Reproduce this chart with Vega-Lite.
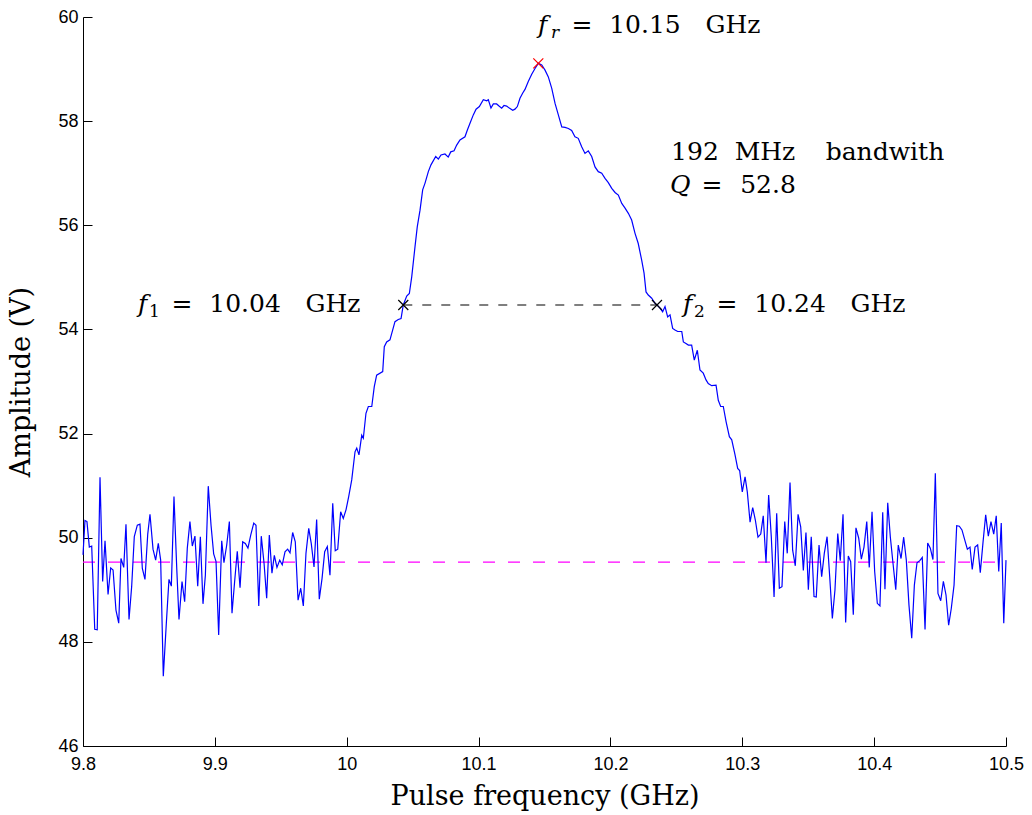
{
  "$schema": "https://vega.github.io/schema/vega-lite/v6.json",
  "width": 923,
  "height": 729,
  "autosize": {"type": "none"},
  "padding": {"left": 83, "top": 17, "right": 26, "bottom": 69},
  "background": "white",
  "config": {
    "view": {"stroke": null},
    "axis": {
      "grid": false,
      "domainColor": "black",
      "domainWidth": 1,
      "tickColor": "black",
      "tickSize": -9,
      "labelFont": "Liberation Sans",
      "labelFontSize": 18,
      "labelColor": "black",
      "labelFlush": false,
      "titleFont": "DejaVu Serif",
      "titleFontSize": 27,
      "titleFontWeight": "normal",
      "titleColor": "black"
    }
  },
  "datasets": {
    "amp": [
      {"f":9.8000,"a":49.67},{"f":9.8015,"a":50.33},{"f":9.8030,"a":50.31},{"f":9.8048,"a":49.82},{"f":9.8066,"a":49.84},{"f":9.8089,"a":48.24},{"f":9.8108,"a":48.23},{"f":9.8129,"a":51.16},{"f":9.8149,"a":49.16},{"f":9.8167,"a":49.94},
      {"f":9.8190,"a":48.91},{"f":9.8210,"a":49.42},{"f":9.8228,"a":49.38},{"f":9.8250,"a":48.61},{"f":9.8271,"a":48.36},{"f":9.8288,"a":49.60},{"f":9.8309,"a":49.43},{"f":9.8326,"a":50.26},{"f":9.8349,"a":48.43},{"f":9.8369,"a":49.06},
      {"f":9.8389,"a":50.02},{"f":9.8412,"a":50.24},{"f":9.8432,"a":50.26},{"f":9.8450,"a":49.41},{"f":9.8470,"a":49.20},{"f":9.8491,"a":50.07},{"f":9.8508,"a":50.45},{"f":9.8531,"a":49.78},{"f":9.8551,"a":49.57},{"f":9.8571,"a":49.89},
      {"f":9.8589,"a":49.57},{"f":9.8609,"a":47.34},{"f":9.8632,"a":48.36},{"f":9.8652,"a":49.20},{"f":9.8670,"a":49.07},{"f":9.8690,"a":50.79},{"f":9.8711,"a":49.41},{"f":9.8728,"a":48.43},{"f":9.8751,"a":49.16},{"f":9.8771,"a":48.77},
      {"f":9.8791,"a":49.80},{"f":9.8811,"a":50.31},{"f":9.8829,"a":49.84},{"f":9.8849,"a":50.03},{"f":9.8870,"a":49.07},{"f":9.8890,"a":50.02},{"f":9.8910,"a":48.73},{"f":9.8928,"a":49.28},{"f":9.8950,"a":50.99},{"f":9.8971,"a":50.24},
      {"f":9.8991,"a":49.69},{"f":9.9009,"a":49.54},{"f":9.9029,"a":48.13},{"f":9.9052,"a":49.94},{"f":9.9069,"a":49.52},{"f":9.9090,"a":49.86},{"f":9.9110,"a":50.31},{"f":9.9130,"a":48.55},{"f":9.9150,"a":49.16},{"f":9.9170,"a":49.74},
      {"f":9.9191,"a":49.04},{"f":9.9211,"a":49.92},{"f":9.9231,"a":49.89},{"f":9.9251,"a":49.80},{"f":9.9272,"a":50.05},{"f":9.9295,"a":50.28},{"f":9.9312,"a":50.24},{"f":9.9333,"a":48.69},{"f":9.9352,"a":50.03},{"f":9.9373,"a":49.51},
      {"f":9.9393,"a":48.84},{"f":9.9413,"a":50.05},{"f":9.9433,"a":49.32},{"f":9.9451,"a":49.66},{"f":9.9471,"a":49.43},{"f":9.9492,"a":49.57},{"f":9.9511,"a":49.48},{"f":9.9532,"a":49.73},{"f":9.9552,"a":49.78},{"f":9.9570,"a":49.71},
      {"f":9.9590,"a":50.10},{"f":9.9610,"a":49.92},{"f":9.9631,"a":48.80},{"f":9.9651,"a":49.03},{"f":9.9671,"a":48.69},{"f":9.9691,"a":49.70},{"f":9.9712,"a":50.18},{"f":9.9731,"a":49.89},{"f":9.9752,"a":49.44},{"f":9.9772,"a":50.35},
      {"f":9.9792,"a":48.82},{"f":9.9813,"a":49.22},{"f":9.9833,"a":49.73},{"f":9.9853,"a":49.83},{"f":9.9873,"a":49.28},{"f":9.9894,"a":50.66},{"f":9.9913,"a":49.75},{"f":9.9932,"a":49.78},{"f":9.9954,"a":50.50},{"f":9.9974,"a":50.37},
      {"f":9.9995,"a":50.54},{"f":10.0015,"a":50.79},{"f":10.0038,"a":51.11},{"f":10.0063,"a":51.65},{"f":10.0076,"a":51.72},{"f":10.0093,"a":51.59},{"f":10.0114,"a":51.97},{"f":10.0126,"a":51.91},{"f":10.0146,"a":52.39},{"f":10.0164,"a":52.52},
      {"f":10.0190,"a":52.52},{"f":10.0209,"a":52.90},{"f":10.0227,"a":53.12},{"f":10.0273,"a":53.19},{"f":10.0285,"a":53.67},{"f":10.0303,"a":53.76},{"f":10.0328,"a":53.80},{"f":10.0341,"a":53.92},{"f":10.0366,"a":54.15},{"f":10.0391,"a":54.19},
      {"f":10.0412,"a":54.21},{"f":10.0429,"a":54.47},{"f":10.0455,"a":54.64},{"f":10.0475,"a":54.69},{"f":10.0493,"a":55.01},{"f":10.0518,"a":55.59},{"f":10.0535,"a":55.97},{"f":10.0556,"a":56.29},{"f":10.0576,"a":56.68},{"f":10.0594,"a":56.81},
      {"f":10.0619,"a":57.03},{"f":10.0639,"a":57.16},{"f":10.0675,"a":57.32},{"f":10.0695,"a":57.27},{"f":10.0715,"a":57.35},{"f":10.0745,"a":57.37},{"f":10.0770,"a":57.31},{"f":10.0789,"a":57.41},{"f":10.0814,"a":57.43},{"f":10.0834,"a":57.54},
      {"f":10.0859,"a":57.64},{"f":10.0897,"a":57.70},{"f":10.0915,"a":57.83},{"f":10.0935,"a":57.96},{"f":10.0960,"a":58.12},{"f":10.0981,"a":58.23},{"f":10.1006,"a":58.28},{"f":10.1036,"a":58.41},{"f":10.1062,"a":58.39},{"f":10.1074,"a":58.41},
      {"f":10.1094,"a":58.25},{"f":10.1112,"a":58.33},{"f":10.1137,"a":58.33},{"f":10.1155,"a":58.29},{"f":10.1175,"a":58.25},{"f":10.1193,"a":58.30},{"f":10.1213,"a":58.29},{"f":10.1233,"a":58.25},{"f":10.1259,"a":58.21},{"f":10.1276,"a":58.23},
      {"f":10.1294,"a":58.28},{"f":10.1314,"a":58.44},{"f":10.1335,"a":58.54},{"f":10.1352,"a":58.61},{"f":10.1377,"a":58.76},{"f":10.1403,"a":58.90},{"f":10.1428,"a":59.01},{"f":10.1453,"a":59.11},{"f":10.1479,"a":59.08},{"f":10.1504,"a":58.98},
      {"f":10.1529,"a":58.85},{"f":10.1555,"a":58.63},{"f":10.1580,"a":58.34},{"f":10.1605,"a":58.12},{"f":10.1631,"a":57.89},{"f":10.1656,"a":57.88},{"f":10.1681,"a":57.86},{"f":10.1706,"a":57.82},{"f":10.1731,"a":57.70},{"f":10.1756,"a":57.67},
      {"f":10.1782,"a":57.51},{"f":10.1807,"a":57.38},{"f":10.1832,"a":57.43},{"f":10.1858,"a":57.32},{"f":10.1883,"a":57.12},{"f":10.1908,"a":57.03},{"f":10.1934,"a":57.00},{"f":10.1959,"a":56.90},{"f":10.1984,"a":56.82},{"f":10.2010,"a":56.71},
      {"f":10.2035,"a":56.63},{"f":10.2060,"a":56.58},{"f":10.2086,"a":56.42},{"f":10.2111,"a":56.33},{"f":10.2136,"a":56.23},{"f":10.2161,"a":56.10},{"f":10.2186,"a":55.85},{"f":10.2211,"a":55.65},{"f":10.2237,"a":55.33},{"f":10.2255,"a":55.08},
      {"f":10.2270,"a":54.72},{"f":10.2287,"a":54.66},{"f":10.2313,"a":54.60},{"f":10.2338,"a":54.50},{"f":10.2353,"a":54.47},{"f":10.2376,"a":54.41},{"f":10.2396,"a":54.34},{"f":10.2414,"a":54.44},{"f":10.2434,"a":54.24},{"f":10.2452,"a":54.28},
      {"f":10.2472,"a":54.02},{"f":10.2490,"a":53.99},{"f":10.2510,"a":53.96},{"f":10.2541,"a":53.96},{"f":10.2553,"a":53.76},{"f":10.2573,"a":53.73},{"f":10.2591,"a":53.70},{"f":10.2616,"a":53.70},{"f":10.2636,"a":53.41},{"f":10.2659,"a":53.60},
      {"f":10.2679,"a":53.22},{"f":10.2704,"a":53.16},{"f":10.2725,"a":53.03},{"f":10.2742,"a":52.96},{"f":10.2768,"a":52.92},{"f":10.2801,"a":52.93},{"f":10.2818,"a":52.64},{"f":10.2836,"a":52.52},{"f":10.2856,"a":52.52},{"f":10.2877,"a":52.23},
      {"f":10.2902,"a":51.94},{"f":10.2920,"a":51.88},{"f":10.2945,"a":51.59},{"f":10.2965,"a":51.33},{"f":10.2980,"a":51.29},{"f":10.3000,"a":50.88},{"f":10.3021,"a":51.17},{"f":10.3038,"a":50.88},{"f":10.3059,"a":50.30},{"f":10.3079,"a":50.58},
      {"f":10.3099,"a":50.34},{"f":10.3119,"a":50.01},{"f":10.3140,"a":50.07},{"f":10.3159,"a":50.42},{"f":10.3180,"a":49.52},{"f":10.3200,"a":50.82},{"f":10.3220,"a":50.02},{"f":10.3241,"a":48.86},{"f":10.3261,"a":50.47},{"f":10.3281,"a":49.03},
      {"f":10.3301,"a":49.06},{"f":10.3322,"a":50.31},{"f":10.3341,"a":49.70},{"f":10.3362,"a":51.06},{"f":10.3382,"a":49.76},{"f":10.3402,"a":49.46},{"f":10.3423,"a":50.45},{"f":10.3443,"a":50.21},{"f":10.3463,"a":49.37},{"f":10.3483,"a":50.10},
      {"f":10.3501,"a":49.00},{"f":10.3523,"a":50.02},{"f":10.3544,"a":48.87},{"f":10.3561,"a":48.86},{"f":10.3582,"a":49.86},{"f":10.3602,"a":49.25},{"f":10.3622,"a":49.70},{"f":10.3643,"a":50.02},{"f":10.3663,"a":49.25},{"f":10.3683,"a":48.45},
      {"f":10.3703,"a":49.00},{"f":10.3724,"a":50.08},{"f":10.3743,"a":49.56},{"f":10.3764,"a":50.45},{"f":10.3784,"a":48.37},{"f":10.3804,"a":49.65},{"f":10.3822,"a":49.54},{"f":10.3842,"a":48.52},{"f":10.3862,"a":50.19},{"f":10.3883,"a":49.99},
      {"f":10.3903,"a":49.59},{"f":10.3923,"a":49.82},{"f":10.3944,"a":50.31},{"f":10.3963,"a":49.43},{"f":10.3984,"a":50.50},{"f":10.4004,"a":49.35},{"f":10.4024,"a":48.74},{"f":10.4044,"a":48.69},{"f":10.4065,"a":50.49},{"f":10.4082,"a":49.01},
      {"f":10.4103,"a":50.67},{"f":10.4123,"a":50.01},{"f":10.4143,"a":49.51},{"f":10.4164,"a":49.00},{"f":10.4183,"a":49.86},{"f":10.4204,"a":49.60},{"f":10.4224,"a":50.01},{"f":10.4244,"a":49.57},{"f":10.4264,"a":48.71},{"f":10.4285,"a":48.07},
      {"f":10.4305,"a":49.09},{"f":10.4325,"a":49.52},{"f":10.4346,"a":49.56},{"f":10.4365,"a":49.62},{"f":10.4386,"a":48.24},{"f":10.4406,"a":49.90},{"f":10.4426,"a":49.80},{"f":10.4446,"a":49.58},{"f":10.4464,"a":51.24},{"f":10.4484,"a":48.93},
      {"f":10.4505,"a":48.79},{"f":10.4525,"a":49.16},{"f":10.4545,"a":48.90},{"f":10.4565,"a":48.32},{"f":10.4585,"a":48.64},{"f":10.4606,"a":49.09},{"f":10.4626,"a":50.23},{"f":10.4646,"a":50.22},{"f":10.4666,"a":50.15},{"f":10.4687,"a":49.96},
      {"f":10.4707,"a":49.78},{"f":10.4727,"a":49.82},{"f":10.4744,"a":49.39},{"f":10.4765,"a":49.82},{"f":10.4785,"a":49.86},{"f":10.4805,"a":49.33},{"f":10.4826,"a":49.92},{"f":10.4846,"a":50.44},{"f":10.4866,"a":50.03},{"f":10.4886,"a":50.31},
      {"f":10.4907,"a":50.07},{"f":10.4926,"a":50.42},{"f":10.4945,"a":49.35},{"f":10.4964,"a":50.28},{"f":10.4983,"a":48.36},{"f":10.5000,"a":49.57}
    ],
    "words": [
      {"f":10.1784,"a":59.693,"t":"="},
      {"f":10.2262,"a":59.693,"t":"10.15"},
      {"f":10.2929,"a":59.693,"t":"GHz"},
      {"f":10.2641,"a":57.254,"t":"192"},
      {"f":10.3172,"a":57.254,"t":"MHz"},
      {"f":10.4082,"a":57.254,"t":"bandwith"},
      {"f":10.2770,"a":56.620,"t":"="},
      {"f":10.3195,"a":56.620,"t":"52.8"},
      {"f":9.8751,"a":54.335,"t":"="},
      {"f":9.9229,"a":54.335,"t":"10.04"},
      {"f":9.9896,"a":54.335,"t":"GHz"},
      {"f":10.2884,"a":54.335,"t":"="},
      {"f":10.3362,"a":54.335,"t":"10.24"},
      {"f":10.4029,"a":54.335,"t":"GHz"}
    ],
    "italics": [
      {"f":10.1451,"a":59.693,"t":"f"},
      {"f":10.2452,"a":56.620,"t":"Q"},
      {"f":9.8417,"a":54.335,"t":"f"},
      {"f":10.2550,"a":54.335,"t":"f"}
    ],
    "subs": [
      {"f":9.8501,"a":54.239,"t":"1"},
      {"f":10.2634,"a":54.239,"t":"2"}
    ],
    "subsItalic": [
      {"f":10.1549,"a":59.597,"t":"r"}
    ],
    "marks": [
      {"f":10.1453,"a":59.11,"c":"#ff0000"},
      {"f":10.0429,"a":54.47,"c":"#000000"},
      {"f":10.2353,"a":54.47,"c":"#000000"}
    ]
  },
  "encoding": {
    "x": {
      "field": "f",
      "type": "quantitative",
      "scale": {"domain": [9.8, 10.5], "nice": false, "zero": false},
      "axis": {
        "values": [9.8, 9.9, 10, 10.1, 10.2, 10.3, 10.4, 10.5],
        "format": "~g",
        "labelPadding": 18,
        "title": "Pulse frequency (GHz)",
        "titlePadding": 10
      }
    },
    "y": {
      "field": "a",
      "type": "quantitative",
      "scale": {"domain": [46, 60], "nice": false, "zero": false},
      "axis": {
        "values": [46, 48, 50, 52, 54, 56, 58, 60],
        "format": "d",
        "labelPadding": 14,
        "title": "Amplitude (V)",
        "titlePadding": 22
      }
    }
  },
  "layer": [
    {
      "data": {"values": [{"f": 9.8, "f2": 10.5, "a": 49.53}]},
      "mark": {"type": "rule", "color": "#ff00ff", "strokeWidth": 1.2, "strokeDash": [12, 13]},
      "encoding": {"x2": {"field": "f2"}}
    },
    {
      "data": {"name": "amp"},
      "mark": {"type": "line", "color": "#0000ff", "strokeWidth": 1.2},
      "encoding": {"order": {"field": "f", "type": "quantitative"}}
    },
    {
      "data": {"values": [{"f": 10.0429, "f2": 10.2353, "a": 54.47}]},
      "mark": {"type": "rule", "color": "#000000", "strokeWidth": 1.1, "strokeDash": [9, 10]},
      "encoding": {"x2": {"field": "f2"}}
    },
    {
      "data": {"name": "marks"},
      "mark": {"type": "point", "shape": "M-1,-1L1,1M-1,1L1,-1", "filled": false, "size": 100, "strokeWidth": 1.2, "opacity": 1},
      "encoding": {"stroke": {"field": "c", "type": "nominal", "scale": null}}
    },
    {
      "data": {"name": "words"},
      "mark": {"type": "text", "font": "DejaVu Serif", "fontSize": 25, "align": "center", "baseline": "alphabetic", "color": "black"},
      "encoding": {"text": {"field": "t"}}
    },
    {
      "data": {"name": "italics"},
      "mark": {"type": "text", "font": "DejaVu Serif", "fontStyle": "italic", "fontSize": 25, "align": "left", "baseline": "alphabetic", "color": "black"},
      "encoding": {"text": {"field": "t"}}
    },
    {
      "data": {"name": "subs"},
      "mark": {"type": "text", "font": "DejaVu Serif", "fontSize": 17, "align": "left", "baseline": "alphabetic", "color": "black"},
      "encoding": {"text": {"field": "t"}}
    },
    {
      "data": {"name": "subsItalic"},
      "mark": {"type": "text", "font": "DejaVu Serif", "fontStyle": "italic", "fontSize": 17, "align": "left", "baseline": "alphabetic", "color": "black"},
      "encoding": {"text": {"field": "t"}}
    }
  ]
}
